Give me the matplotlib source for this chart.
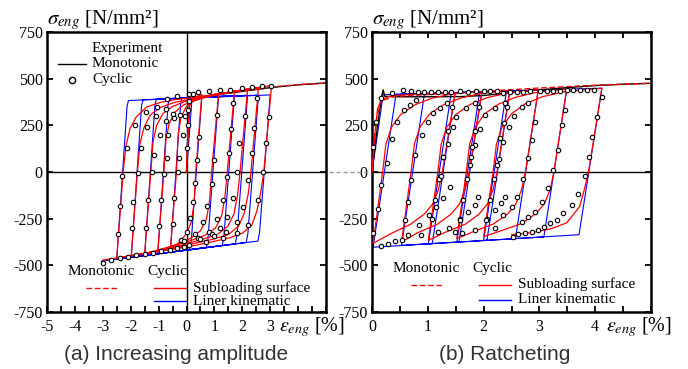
import matplotlib
matplotlib.use('Agg')

import matplotlib.pyplot as plt

plt.rcParams['font.family'] = 'serif'
plt.rcParams['font.serif'] = ['Liberation Serif', 'DejaVu Serif']
plt.rcParams['mathtext.fontset'] = 'stix'
plt.rcParams['axes.unicode_minus'] = False

# ---------------- (a) increasing amplitude ----------------
a_mono_exp_eps = [0, 0.06, 0.12, 0.3, 1.0, 2.0, 3.0, 4.0, 5.0]
a_mono_exp_sig = [0, 250, 385, 400, 412, 432, 452, 467, 477]
a_mono_sub_eps = [0, 0.08, 0.15, 0.4, 1.0, 2.0, 3.0, 4.0, 5.0]
a_mono_sub_sig = [0, 280, 375, 398, 412, 433, 455, 468, 477]

# subloading surface, whole strain history
a_sub_eps = [0, 0.05, 0.12, 0.25, 0.55,
             0.33, 0.27, 0.17, 0.0, -0.25, -0.58,
             -0.36, -0.3, -0.2, -0.03, 0.2, 0.55, 1.15,
             0.9, 0.83, 0.72, 0.5, 0.15, -0.3, -1.03,
             -0.81, -0.74, -0.62, -0.42, -0.12, 0.3, 0.9, 1.72,
             1.46, 1.38, 1.26, 1.04, 0.65, 0.1, -0.6, -1.5,
             -1.28, -1.2, -1.07, -0.85, -0.52, -0.05, 0.6, 1.3, 2.19,
             1.92, 1.83, 1.7, 1.48, 1.1, 0.55, -0.2, -1.1, -1.98,
             -1.76, -1.67, -1.52, -1.3, -0.95, -0.45, 0.2, 1.0, 1.8, 2.58,
             2.31, 2.21, 2.07, 1.87, 1.5, 0.95, 0.2, -0.8, -1.7, -2.5,
             -2.27, -2.17, -2.02, -1.8, -1.43, -0.95, -0.4, 0.3, 1.2, 2.2, 3.05,
             2.77, 2.66, 2.52, 2.34, 2.0, 1.56, 0.8, 0.0, -1.0, -2.0, -3.0]
a_sub_sig = [0, 200, 370, 398, 415,
             0, -170, -270, -330, -375, -418,
             0, 200, 290, 345, 375, 398, 422,
             0, -150, -250, -315, -355, -385, -428,
             0, 170, 260, 320, 358, 385, 408, 434,
             0, -130, -235, -300, -340, -370, -400, -438,
             0, 160, 250, 312, 350, 378, 400, 422, 445,
             0, -125, -225, -292, -335, -362, -392, -425, -448,
             0, 150, 240, 305, 345, 372, 392, 412, 432, 453,
             0, -120, -220, -290, -335, -360, -385, -420, -443, -460,
             0, 140, 235, 295, 348, 372, 388, 400, 420, 443, 464,
             0, -110, -210, -285, -328, -352, -378, -402, -425, -448, -472]

# linear kinematic hardening, whole strain history
a_lin_eps = [0, 0.2, 0.55,
             0.17, 0.11, -0.58, -0.21, -0.16, 1.15,
             0.77, 0.71, -1.03, -0.66, -0.61, 1.72,
             1.34, 1.28, -1.5, -1.13, -1.08, 2.19,
             1.81, 1.75, -1.98, -1.61, -1.56, 2.58,
             2.2, 2.14, -2.5, -2.13, -2.08, 3.0,
             2.62, 2.56, -3.05]
a_lin_sig = [0, 400, 404,
             -371, -416, -429, 367, 397, 408,
             -359, -405, -438, 364, 394, 410,
             -348, -394, -447, 360, 390, 411,
             -339, -385, -456, 357, 387, 412,
             -331, -377, -466, 353, 383, 413,
             -322, -370, -478]

# experiment, cyclic (circles)
a_exp_eps = [0.02, 0.04, 0.06, 0.09, 0.1,
             -0.71, -0.35, 0.25, 0.42, 0.82, 1.2, 1.56, 1.98, 2.34, 2.7, 3.02,
             -2.45, -2.4, -2.3, -2.14, -1.85, -1.46, -1.07,
             -1.95, -1.9, -1.75, -1.63, -1.43, -1.1, -0.75,
             -1.45, -1.38, -1.25, -1.16, -0.95, -0.75, -0.49,
             -0.98, -0.93, -0.8, -0.71, -0.65, -0.45, -0.23,
             -0.5, -0.45, -0.3, -0.26, -0.14, -0.05,
             0.45, 0.37, 0.3, 0.22, 0.13, 0.0, -0.2,
             1.1, 1.0, 0.9, 0.75, 0.58, 0.3, -0.1,
             1.68, 1.58, 1.52, 1.44, 1.3, 1.1, 0.8, 0.4,
             2.1, 1.88, 1.8, 1.65, 1.45, 1.2, 0.9, 0.5,
             2.52, 2.42, 2.34, 2.2, 2.04, 1.8, 1.4, 1.0,
             2.96, 2.85, 2.75, 2.57, 2.22, 1.8, 1.3, 0.7,
             -3.0, -2.7, -2.4, -2.1, -1.8, -1.5, -1.2, -0.9, -0.6, -0.35, -0.1, 0.1]
a_exp_sig = [130, 250, 330, 380, 420,
             390, 405, 418, 426, 432, 437, 440, 448, 456, 461, 462,
             -330, -180, -20, 130, 252, 320, 350,
             -300, -160, -7, 130, 240, 300, 340,
             -300, -150, 0, 91, 200, 275, 311,
             -290, -150, -10, 73, 198, 290, 305,
             -280, -140, 0, 73, 198, 300,
             189, 64, -57, -159, -248, -320, -365,
             305, 64, -64, -180, -266, -330, -372,
             368, 229, 100, -28, -150, -250, -320, -352,
             300, 154, 0, -140, -240, -300, -330, -358,
             398, 234, 100, -43, -186, -270, -320, -345,
             293, 154, 2, -150, -284, -328, -352, -375,
             -490, -472, -462, -455, -447, -440, -432, -424, -416, -408, -400, -392]

# ---------------- (b) ratcheting ----------------
b_mono_exp_eps = [0, 0.1, 0.17, 0.2, 0.23, 0.5, 1.0, 1.6, 2.0, 2.5, 3.0, 3.5, 4.0, 4.5, 5.0]
b_mono_exp_sig = [0, 250, 400, 440, 405, 403, 403, 404, 410, 425, 440, 452, 463, 470, 475]
b_mono_sub_eps = [0, 0.08, 0.15, 0.4, 1.0, 2.0, 3.0, 4.0, 5.0]
b_mono_sub_sig = [0, 280, 380, 405, 415, 432, 450, 465, 476]

b_sub_eps = [0, 0.05, 0.1, 0.17, 0.3, 0.6, 1.0, 1.49,
             1.26, 1.19, 1.09, 0.94, 0.69, 0.34, 0.02,
             0.19, 0.25, 0.35, 0.52, 0.77, 1.07, 1.42, 1.97,
             1.74, 1.67, 1.57, 1.42, 1.17, 0.82, 0.53,
             0.7, 0.76, 0.86, 1.03, 1.28, 1.58, 1.93, 2.47,
             2.24, 2.17, 2.07, 1.92, 1.67, 1.32, 1.01,
             1.18, 1.24, 1.34, 1.51, 1.76, 2.06, 2.41, 2.98,
             2.75, 2.68, 2.58, 2.43, 2.18, 1.83, 1.52,
             1.69, 1.75, 1.85, 2.02, 2.27, 2.57, 2.92, 3.49,
             3.26, 3.19, 3.09, 2.94, 2.69, 2.34, 2.0,
             2.17, 2.23, 2.33, 2.5, 2.75, 3.05, 3.45, 4.12,
             3.88, 3.8, 3.72, 3.49, 3.2, 2.85, 2.5]
b_sub_sig = [0, 200, 340, 385, 405, 414, 420, 425,
             0, -96, -170, -225, -280, -330, -382,
             0, 150, 240, 310, 360, 395, 418, 432,
             0, -96, -170, -225, -280, -325, -375,
             0, 150, 240, 310, 360, 395, 420, 437,
             0, -96, -170, -225, -280, -322, -366,
             0, 150, 240, 310, 362, 398, 422, 441,
             0, -96, -170, -225, -278, -318, -357,
             0, 150, 240, 312, 364, 400, 425, 445,
             0, -96, -170, -222, -275, -312, -346,
             0, 150, 240, 312, 366, 403, 430, 449,
             0, -100, -186, -272, -305, -325, -336]

b_lin_eps = [0, 0.2, 1.49,
             1.08, 0.02, 0.43, 1.97,
             1.56, 0.53, 0.94, 2.47,
             2.06, 1.01, 1.42, 2.98,
             2.57, 1.52, 1.93, 3.49,
             3.08, 2.0, 2.41, 4.12,
             3.71, 2.5]
b_lin_sig = [0, 414, 425,
             -384, -403, 416, 430,
             -375, -393, 420, 434,
             -366, -385, 425, 439,
             -357, -376, 429, 443,
             -348, -367, 434, 449,
             -336, -358]

b_exp_eps = [0.02, 0.08, 0.17, 0.35, 0.56, 0.69, 0.82, 0.94, 1.06, 1.18, 1.3, 1.42,
             1.58, 1.72, 1.86, 2.0, 2.12, 2.24, 2.35, 2.47, 2.59, 2.71, 2.83, 3.01,
             3.13, 3.25, 3.37, 3.49, 3.61, 3.73, 3.85, 3.97,
             0.02, 0.11, 0.17, 0.26, 0.35, 0.44, 0.58, 0.68, 0.79,
             0.59, 0.65, 0.7, 0.77, 0.89, 1.0, 1.09, 1.21, 1.35,
             1.07, 1.13, 1.2, 1.28, 1.36, 1.45, 1.51, 1.69, 1.85,
             1.58, 1.63, 1.7, 1.78, 1.84, 1.93, 2.02, 2.2, 2.38,
             2.06, 2.12, 2.18, 2.27, 2.35, 2.45, 2.55, 2.68, 2.8,
             1.44, 1.36, 1.27, 1.23, 1.39, 1.27, 1.15, 1.03, 0.85, 0.65, 0.41,
             1.92, 1.85, 1.79, 1.75, 1.9, 1.84, 1.72, 1.57, 1.38, 1.18,
             2.42, 2.36, 2.3, 2.24, 2.38, 2.32, 2.2, 2.05, 1.84, 1.62,
             2.93, 2.86, 2.8, 2.71, 2.6, 2.5, 2.35, 2.2,
             3.46, 3.4, 3.34, 3.25, 3.16, 3.04, 2.92, 2.8, 2.68,
             4.12, 4.03, 3.94, 3.88, 3.82, 3.7, 3.58, 3.43, 3.31, 3.19, 3.08, 2.98, 2.86, 2.74, 2.62,
             0.17, 0.29, 0.53, 0.88, 1.48, 2.53]
b_exp_sig = [136, 269, 395, 421, 439, 434, 430, 427, 427, 427, 430, 430,
             432, 430, 433, 432, 434, 432, 421, 427, 430, 430, 434, 434,
             436, 436, 436, 439, 439, 439, 439, 441,
             -325, -200, -70, 46, 175, 269, 330, 359, 386,
             -257, -159, -43, 91, 198, 270, 314, 341, 370,
             -250, -150, -40, 80, 150, 240, 296, 341, 372,
             -250, -150, -40, 80, 145, 230, 305, 345, 368,
             -250, -150, -40, 70, 160, 240, 300, 350, 368,
             350, 220, 80, -20, -79, -141, -186, -230, -284, -337, -370,
             350, 220, 136, 38, -132, -177, -212, -257, -300, -320,
             350, 261, 180, 38, -132, -168, -204, -257, -311, -325,
             269, 171, 73, -39, -132, -189, -230, -302,
             332, 252, 118, 11, -87, -162, -212, -243, -266,
             403, 296, 189, 82, -21, -118, -177, -221, -257, -275, -293, -311, -320, -325, -332,
             -396, -386, -364, -337, -320, -346]

LEG_FS = 11


def draw_panel(ax, xlim, tick_labels, mono_exp, mono_sub, sub, lin, exp, leg_y, axis_v, top_ticks):
    ax.set_xlim(*xlim)
    ax.set_ylim(-750, 750)

    ax.axhline(0, color='k', lw=1.0, zorder=1)
    if axis_v:
        ax.axvline(0, color='k', lw=1.0, zorder=1)

    ax.plot(mono_exp[0], mono_exp[1], color='k', lw=1.0, zorder=3)
    ax.plot(lin[0], lin[1], color='#0000ff', lw=0.8, zorder=2)
    ax.plot(sub[0], sub[1], color='#ff0000', lw=0.9, zorder=4)
    ax.plot(mono_sub[0], mono_sub[1], color='#ff0000', lw=1.0, ls=(0, (4, 2)), zorder=4)
    ax.plot(exp[0], exp[1], ls='none', marker='o', ms=3.2, mfc='white', mec='k',
            mew=0.8, zorder=5)

    ticks = [t for t in range(int(xlim[0]), int(xlim[1]) + 1)]
    ax.set_xticks(ticks, labels=tick_labels)
    ax.set_xticks([t + 0.5 for t in ticks[:-1]], minor=True)
    ax.set_yticks([750, 500, 250, 0, -250, -500, -750])
    ax.tick_params(which='both', direction='in', length=4, width=1.3, top=top_ticks,
                   right=True, labelsize=11.5, pad=5)
    ax.tick_params(axis='y', pad=3)
    for s in ax.spines.values():
        s.set_linewidth(1.8)

    # model legend
    y0, y1, y2 = leg_y
    ax.text(0.075, y0, 'Monotonic', transform=ax.transAxes, fontsize=LEG_FS, va='center')
    ax.text(0.358, y0, 'Cyclic', transform=ax.transAxes, fontsize=LEG_FS, va='center')
    ax.plot([0.14, 0.258], [y1, y1], transform=ax.transAxes, color='#ff0000', lw=1.0,
            ls=(0, (4, 2)))
    ax.plot([0.384, 0.498], [y1, y1], transform=ax.transAxes, color='#ff0000', lw=1.0)
    ax.plot([0.384, 0.498], [y2, y2], transform=ax.transAxes, color='#0000ff', lw=1.0)
    ax.text(0.523, y1, 'Subloading surface', transform=ax.transAxes, fontsize=LEG_FS,
            va='center')
    ax.text(0.523, y2, 'Liner kinematic', transform=ax.transAxes, fontsize=LEG_FS,
            va='center')


fig = plt.figure(figsize=(6.88, 3.69), dpi=100)
ax1 = fig.add_axes([47 / 688, 1 - 312 / 369, 279 / 688, 280 / 369])
ax2 = fig.add_axes([372 / 688, 1 - 312 / 369, 279 / 688, 280 / 369])

draw_panel(ax1, (-5, 5), ['-5', '-4', '-3', '-2', '-1', '0', '1', '2', '3', '', ''],
           (a_mono_exp_eps, a_mono_exp_sig), (a_mono_sub_eps, a_mono_sub_sig),
           (a_sub_eps, a_sub_sig), (a_lin_eps, a_lin_sig), (a_exp_eps, a_exp_sig),
           (0.143, 0.087, 0.039), True, False)
draw_panel(ax2, (0, 5), ['0', '1', '2', '3', '4', ''],
           (b_mono_exp_eps, b_mono_exp_sig), (b_mono_sub_eps, b_mono_sub_sig),
           (b_sub_eps, b_sub_sig), (b_lin_eps, b_lin_sig), (b_exp_eps, b_exp_sig),
           (0.154, 0.098, 0.044), False, True)

# experiment legend in (a)
ax1.text(0.161, 0.940, 'Experiment', transform=ax1.transAxes, fontsize=LEG_FS, va='center')
ax1.plot([0.039, 0.14], [0.887, 0.887], transform=ax1.transAxes, color='k', lw=1.0)
ax1.text(0.161, 0.887, 'Monotonic', transform=ax1.transAxes, fontsize=LEG_FS, va='center')
ax1.plot([0.09], [0.830], transform=ax1.transAxes, marker='o', ms=4.5, mfc='white',
         mec='k', mew=1.0)
ax1.text(0.161, 0.830, 'Cyclic', transform=ax1.transAxes, fontsize=LEG_FS, va='center')

# axis titles
for x in (47, 372):
    fig.text(x / 688, 1 - 20 / 369, r'$\sigma_{eng}$ [N/mm²]', fontsize=15, va='center')
for x in (279, 606):
    fig.text(x / 688, 1 - 327 / 369, r'$\varepsilon_{eng}$ [%]', fontsize=14.5, va='center')

# dashed zero line between the panels
fig.add_artist(plt.Line2D([329 / 688, 370 / 688], [1 - 172 / 369, 1 - 172 / 369],
                          color='#999999', lw=1.0, ls=(0, (3, 2))))

fig.text(176 / 688, 1 - 355 / 369, '(a) Increasing amplitude', family='Liberation Sans',
         fontsize=15, color='#333333', ha='center', va='center')
fig.text(505 / 688, 1 - 355 / 369, '(b) Ratcheting', family='Liberation Sans',
         fontsize=15, color='#333333', ha='center', va='center')

fig.savefig('out.png', dpi=100)
